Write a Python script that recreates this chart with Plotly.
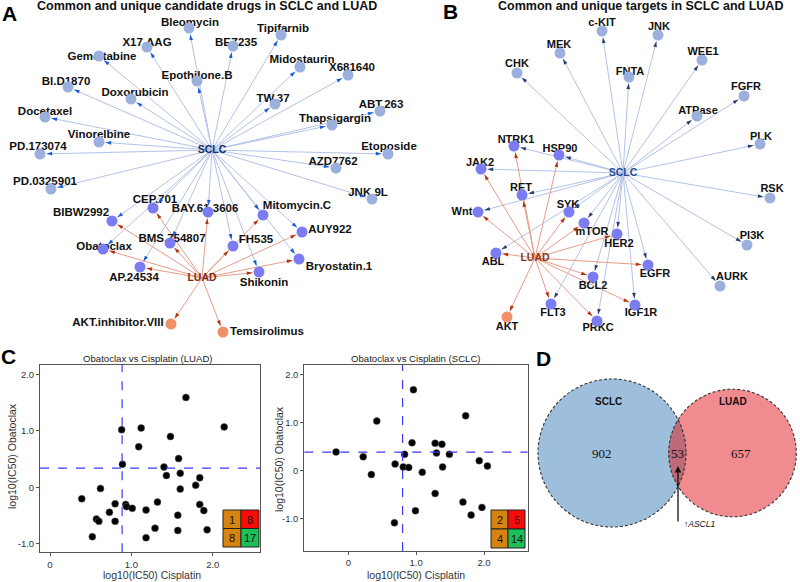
import math
import numpy as np
import plotly.graph_objects as go

W, H = 800, 582
SANS = "Liberation Sans, Arial, Helvetica, sans-serif"
SERIF = "Liberation Serif, Times New Roman, serif"

# ================= DATA =================
# ---- Panel A: candidate drugs (network) ----
drugs_A = ["Bleomycin", "Tipifarnib", "X17.AAG", "BEZ235", "Gemcitabine", "Midostaurin",
           "X681640", "Epothilone.B", "BI.D1870", "Doxorubicin", "TW.37", "ABT.263",
           "Docetaxel", "Thapsigargin", "Vinorelbine", "PD.173074", "Etoposide", "AZD7762",
           "PD.0325901", "JNK.9L",
           "CEP.701", "BAY.61.3606", "Mitomycin.C", "BIBW2992", "AUY922", "BMS.754807",
           "FH535", "Obatoclax", "Bryostatin.1", "AP.24534", "Shikonin",
           "AKT.inhibitor.VIII", "Temsirolimus"]
drug_group_A = ["SCLC", "SCLC", "SCLC", "SCLC", "SCLC", "SCLC", "SCLC", "SCLC", "SCLC", "SCLC",
                "SCLC", "SCLC", "SCLC", "SCLC", "SCLC", "SCLC", "SCLC", "SCLC", "SCLC", "SCLC",
                "both", "both", "both", "both", "both", "both", "both", "both", "both", "both",
                "both", "LUAD", "LUAD"]

# ---- Panel B: targets (network) ----
targets_B = ["c-KIT", "JNK", "MEK", "WEE1", "CHK", "FNTA", "FGFR", "ATPase", "PLK", "RSK",
             "PI3K", "AURK",
             "NTRK1", "HSP90", "JAK2", "RET", "Wnt", "SYK", "mTOR", "HER2", "ABL", "EGFR",
             "BCL2", "FLT3", "IGF1R", "PRKC", "AKT"]
target_group_B = ["SCLC", "SCLC", "SCLC", "SCLC", "SCLC", "SCLC", "SCLC", "SCLC", "SCLC", "SCLC",
                  "SCLC", "SCLC",
                  "both", "both", "both", "both", "both", "both", "both", "both", "both", "both",
                  "both", "both", "both", "both", "LUAD"]

# ---- Panel C: log10(IC50) scatter ----
luad_cisplatin = [0.39, 0.62, 0.57, 0.60, 0.52, 0.73, 0.80, 0.80, 0.88, 0.89, 0.93, 0.94, 1.01,
                  1.12, 1.09, 1.18, 1.18, 1.32, 1.29, 1.40, 1.43, 1.48, 1.58, 1.60, 1.60, 1.57,
                  1.57, 1.67, 1.79, 1.84, 1.84, 1.89, 1.93, 2.14]
luad_obatoclax = [-0.20, -0.02, -0.56, -0.60, -0.87, -0.44, -0.29, -0.60, 1.02, 0.41, -0.30,
                  -0.34, -0.37, 1.05, 0.72, -0.40, -0.89, -0.26, -0.72, 0.36, 0.21, 0.90, 0.51,
                  0.25, -0.03, -0.49, -0.76, 1.59, 0.04, 0.17, -0.30, -0.41, -0.75, 1.07]
luad_threshold = [0.886, 0.34]          # cisplatin, obatoclax
luad_quadrants = [1, 8, 8, 17]          # TL, TR, BL, BR

sclc_cisplatin = [-0.18, 0.22, 0.34, 0.42, 0.69, 0.68, 0.81, 0.83, 0.89, 0.94, 0.96, 0.99, 1.09,
                  1.28, 1.30, 1.28, 1.38, 1.39, 1.49, 1.69, 1.73, 1.81, 1.93, 1.97, 2.05]
sclc_obatoclax = [0.39, 0.29, -0.08, 1.03, 0.14, -1.08, 0.08, 0.34, 0.07, 0.58, 1.68, -0.83,
                  -0.03, 0.57, 0.37, -0.47, 0.55, 0.08, 0.34, -0.65, 1.14, -0.92, 0.21, -0.76,
                  0.10]
sclc_threshold = [0.80, 0.386]
sclc_quadrants = [2, 5, 4, 14]

x_tickvals = [0, 1, 2]
x_ticktext = ["0", "1.0", "2.0"]
y_tickvals = [-1, 0, 1, 2]
y_ticktext = ["-1.0", "0", "1.0", "2.0"]

# ---- Panel D: Venn ----
venn_sets = ["SCLC", "LUAD"]
venn_counts = [902, 53, 657]            # SCLC only, shared, LUAD only
venn_gene = "ASCL1"

# ================= LAYOUT (pixel positions on the canvas) =================
node_x_A = [189, 281, 147, 233, 99, 300, 348, 197, 68, 131, 275, 380, 45, 332, 99, 40, 388, 336,
            51, 372, 153, 208, 263, 112, 302, 170, 233, 103, 299, 140, 259, 171, 223]
node_y_A = [28, 35, 47, 46, 56, 67, 75, 81, 87, 99, 104, 111, 117, 125, 142, 154, 154, 168,
            189, 199, 208, 212, 215, 221, 232, 243, 246, 249, 259, 267, 272, 324, 332]
label_x_A = [190, 283, 147, 236, 102, 302, 352, 197, 66, 135, 273, 381, 45, 335, 99, 38, 389,
             333, 45, 368, 155, 205, 297, 81, 330, 172, 256, 104, 339, 134, 264, 118, 267]
label_y_A = [23, 29, 43, 43, 57, 60, 68, 76, 82, 93, 99, 105, 112, 119, 135, 147, 147, 162,
             182, 193, 200, 209, 206, 213, 230, 239, 240, 247, 267, 278, 283, 323, 332]
hubs_A = {"SCLC": (212, 150), "LUAD": (202, 278)}

node_x_B = [602, 658, 560, 702, 517, 629, 744, 697, 760, 770, 747, 720, 514, 559, 481, 522,
            478, 569, 584, 617, 496, 648, 593, 551, 635, 597, 507]
node_y_B = [31, 35, 53, 60, 73, 77, 96, 116, 144, 198, 245, 286, 146, 155, 169, 195, 212, 212,
            223, 234, 253, 265, 277, 304, 305, 321, 317]
label_x_B = [602, 659, 559, 703, 517, 630, 746, 698, 761, 772, 752, 732, 516, 560, 480, 521,
             462, 568, 592, 619, 493, 655, 593, 553, 641, 598, 507]
label_y_B = [23, 27, 45, 52, 64, 72, 87, 111, 137, 189, 236, 277, 140, 149, 163, 188, 212, 205,
             232, 244, 262, 274, 286, 313, 313, 328, 327]
hubs_B = {"SCLC": (623, 173), "LUAD": (535, 258)}

fig = go.Figure()

NODE_COLORS = {"SCLC": "#9cb0de", "both": "#7c7cf2", "LUAD": "#ef9068"}
EDGE_COLORS = {"SCLC": "#b3c2e8", "LUAD": "#e89c88"}


def add_network(names, groups, nx, ny, lx, ly, hubs, hub_colors, sclc_arrow, label_size):
    R = 6.5
    arrow_colors = {"SCLC": sclc_arrow, "LUAD": "#b3330e"}
    arrow_traces = []
    for hub in ["SCLC", "LUAD"]:
        hx, hy = hubs[hub]
        ex, ey, axs, ays, angs = [], [], [], [], []
        for g, x, y in zip(groups, nx, ny):
            if g not in (hub, "both"):
                continue
            dx, dy = x - hx, y - hy
            L = math.hypot(dx, dy)
            ux, uy = dx / L, dy / L
            tx, ty = x - ux * R, y - uy * R
            ex += [hx, tx, None]
            ey += [hy, ty, None]
            axs.append(tx)
            ays.append(ty)
            angs.append(math.degrees(math.atan2(ux, -uy)))
        fig.add_trace(go.Scatter(x=ex, y=ey, mode="lines",
                                 line=dict(color=EDGE_COLORS[hub], width=1),
                                 hoverinfo="skip", showlegend=False))
        arrow_traces.append(go.Scatter(x=axs, y=ays, mode="markers",
                                       marker=dict(symbol="arrow", size=6, angle=angs,
                                                   color=arrow_colors[hub]),
                                       hoverinfo="skip", showlegend=False))
    hub_names = list(hubs.keys())
    fig.add_trace(go.Scatter(x=[hubs[h][0] for h in hub_names], y=[hubs[h][1] for h in hub_names],
                             text=hub_names, mode="text",
                             textfont=dict(family=SANS, size=10.5, weight="bold",
                                           color=[hub_colors[h] for h in hub_names]),
                             hoverinfo="skip", showlegend=False))
    fig.add_trace(go.Scatter(x=lx, y=ly, text=names, mode="text",
                             textfont=dict(family=SANS, size=label_size, weight="bold",
                                           color="#111111"),
                             hoverinfo="skip", showlegend=False))
    fig.add_trace(go.Scatter(x=nx, y=ny, mode="markers",
                             marker=dict(size=11, color=[NODE_COLORS[g] for g in groups]),
                             hoverinfo="skip", showlegend=False))
    for t in arrow_traces:
        fig.add_trace(t)


add_network(drugs_A, drug_group_A, node_x_A, node_y_A, label_x_A, label_y_A, hubs_A,
            {"SCLC": "#162f70", "LUAD": "#7a2d10"}, "#1a5bd6", 11.5)
add_network(targets_B, target_group_B, node_x_B, node_y_B, label_x_B, label_y_B, hubs_B,
            {"SCLC": "#1f4f96", "LUAD": "#8a3818"}, "#283f6e", 11)

# ---- Panel C scatters ----
for xa, ya, cis, oba in [("x2", "y2", luad_cisplatin, luad_obatoclax),
                         ("x3", "y3", sclc_cisplatin, sclc_obatoclax)]:
    fig.add_trace(go.Scatter(x=cis, y=oba, xaxis=xa, yaxis=ya, mode="markers",
                             marker=dict(color="black", size=7,
                                         line=dict(color="#666666", width=0.5)),
                             hoverinfo="skip", showlegend=False))

ax_common = dict(showline=True, mirror=True, linecolor="#555555", linewidth=1,
                 ticks="outside", ticklen=3, tickcolor="#555555", showgrid=False,
                 zeroline=False, tickfont=dict(family=SANS, size=9.5, color="#333333"),
                 fixedrange=True)

fig.update_layout(
    width=W, height=H, autosize=False,
    margin=dict(l=0, r=0, t=0, b=0),
    paper_bgcolor="white", plot_bgcolor="rgba(0,0,0,0)",
    showlegend=False, hovermode=False,
    xaxis=dict(domain=[0, 1], range=[0, W], visible=False, fixedrange=True),
    yaxis=dict(domain=[0, 1], range=[H, 0], visible=False, fixedrange=True),
    xaxis2=dict(domain=[40 / W, 260 / W], range=[-0.123, 2.58], anchor="y2",
                tickvals=x_tickvals, ticktext=x_ticktext, **ax_common),
    yaxis2=dict(domain=[1 - 552.3 / H, 1 - 365 / H], range=[-1.147, 2.164], anchor="x2",
                tickvals=y_tickvals, ticktext=y_ticktext, **ax_common),
    xaxis3=dict(domain=[304.3 / W, 527.7 / W], range=[-0.648, 2.644], anchor="y3",
                tickvals=x_tickvals, ticktext=x_ticktext, **ax_common),
    yaxis3=dict(domain=[1 - 551 / H, 1 - 365 / H], range=[-1.664, 2.193], anchor="x3",
                tickvals=y_tickvals, ticktext=y_ticktext, **ax_common),
)

shapes = []
annotations = []

# threshold lines
for xa, ya, thr in [("x2", "y2", luad_threshold), ("x3", "y3", sclc_threshold)]:
    ln = dict(color="#3a3aff", width=1.2, dash="dash")
    shapes.append(dict(type="line", xref=xa, yref=ya + " domain", x0=thr[0], x1=thr[0],
                       y0=0, y1=1, line=ln))
    shapes.append(dict(type="line", xref=xa + " domain", yref=ya, x0=0, x1=1,
                       y0=thr[1], y1=thr[1], line=ln))

# quadrant count insets
QCOL = ["#d6840f", "#fb0a0a", "#d6840f", "#1dbf58"]
for (bx0, by0, bx1, by1), counts in [((223, 510, 259, 547), luad_quadrants),
                                     ((491, 510, 525, 548), sclc_quadrants)]:
    mx, my = (bx0 + bx1) / 2, (by0 + by1) / 2
    cells = [(bx0, by0, mx, my), (mx, by0, bx1, my), (bx0, my, mx, by1), (mx, my, bx1, by1)]
    for (cx0, cy0, cx1, cy1), col, n in zip(cells, QCOL, counts):
        shapes.append(dict(type="rect", xref="x", yref="y", x0=cx0, y0=cy0, x1=cx1, y1=cy1,
                           fillcolor=col, line=dict(color="#222222", width=1), layer="above"))
        annotations.append(dict(x=(cx0 + cx1) / 2, y=(cy0 + cy1) / 2 + 0.5, xref="x", yref="y",
                                text=str(n), showarrow=False,
                                font=dict(family=SANS, size=11, color="#111111")))

# subplot titles / axis titles
for cx, title in [(148, "Obatoclax vs Cisplatin (LUAD)"), (416, "Obatoclax vs Cisplatin (SCLC)")]:
    annotations.append(dict(x=cx, y=358, xref="x", yref="y", text=title, showarrow=False,
                            font=dict(family=SANS, size=9.6, color="#222222")))
for cx in [152, 416]:
    annotations.append(dict(x=cx, y=575, xref="x", yref="y", text="log10(IC50) Cisplatin",
                            showarrow=False, font=dict(family=SANS, size=10.5, color="#333333")))
for cx, cy in [(12, 456), (279, 459)]:
    annotations.append(dict(x=cx, y=cy, xref="x", yref="y", text="log10(IC50) Obatoclax",
                            textangle=-90, showarrow=False,
                            font=dict(family=SANS, size=10.5, color="#333333")))

# ---- Panel D Venn ----
tot_s = venn_counts[0] + venn_counts[1]
tot_l = venn_counts[2] + venn_counts[1]
k = 74 / math.sqrt(tot_s)
r1, r2 = k * math.sqrt(tot_s), k * math.sqrt(tot_l)
c1 = (612, 453)
c2 = (732.5, 453)
d = c2[0] - c1[0]
a = (d ** 2 + r1 ** 2 - r2 ** 2) / (2 * d)
h = math.sqrt(r1 ** 2 - a ** 2)
t1 = math.atan2(h, a)
t2 = math.atan2(h, d - a)
arc1 = np.linspace(-t1, t1, 40)
arc2 = np.linspace(math.pi - t2, math.pi + t2, 40)
pts = [(c1[0] + r1 * math.cos(t), c1[1] + r1 * math.sin(t)) for t in arc1] + \
      [(c2[0] + r2 * math.cos(t), c2[1] + r2 * math.sin(t)) for t in arc2]
lens = "M " + " L ".join(f"{x:.2f},{y:.2f}" for x, y in pts) + " Z"

shapes.append(dict(type="circle", xref="x", yref="y", x0=c1[0] - r1, x1=c1[0] + r1,
                   y0=c1[1] - r1, y1=c1[1] + r1, fillcolor="#9ebfdc", line=dict(width=0)))
shapes.append(dict(type="circle", xref="x", yref="y", x0=c2[0] - r2, x1=c2[0] + r2,
                   y0=c2[1] - r2, y1=c2[1] + r2, fillcolor="#f08b8f", line=dict(width=0)))
shapes.append(dict(type="path", xref="x", yref="y", path=lens, fillcolor="#bf6a79",
                   line=dict(width=0)))
for (cx, cy), r in [(c1, r1), (c2, r2)]:
    shapes.append(dict(type="circle", xref="x", yref="y", x0=cx - r, x1=cx + r,
                       y0=cy - r, y1=cy + r, fillcolor="rgba(0,0,0,0)",
                       line=dict(color="#333333", width=1.1, dash="3px,2px")))

annotations.append(dict(x=608, y=401, xref="x", yref="y", text="<b>" + venn_sets[0] + "</b>",
                        showarrow=False, font=dict(family=SANS, size=10, color="#111111")))
annotations.append(dict(x=733, y=401, xref="x", yref="y", text="<b>" + venn_sets[1] + "</b>",
                        showarrow=False, font=dict(family=SANS, size=10, color="#111111")))
for x, n in zip([602, 677, 741], venn_counts):
    annotations.append(dict(x=x, y=453, xref="x", yref="y", text=str(n), showarrow=False,
                            font=dict(family=SERIF, size=13, color="#111111")))
annotations.append(dict(x=678, y=466, ax=678, ay=523, xref="x", yref="y", axref="x", ayref="y",
                        text="", showarrow=True, arrowhead=2, arrowsize=1, arrowwidth=1.3,
                        arrowcolor="#111111"))
annotations.append(dict(x=682, y=524, xref="x", yref="y", xanchor="left",
                        text="↑<i>" + venn_gene + "</i>", showarrow=False,
                        font=dict(family=SANS, size=8.5, color="#111111")))

# titles & panel letters
annotations.append(dict(x=207, y=6, xref="x", yref="y", showarrow=False,
                        text="<b>Common and unique candidate drugs in SCLC and LUAD</b>",
                        font=dict(family=SANS, size=12.5, color="#111111")))
annotations.append(dict(x=640, y=6, xref="x", yref="y", showarrow=False,
                        text="<b>Common and unique targets in SCLC and LUAD</b>",
                        font=dict(family=SANS, size=12.5, color="#111111")))
for letter, x, y in [("A", 9, 13), ("B", 450, 11), ("C", 8, 356), ("D", 543, 358)]:
    annotations.append(dict(x=x, y=y, xref="x", yref="y", showarrow=False,
                            text="<b>" + letter + "</b>",
                            font=dict(family=SANS, size=21, color="#000000")))

fig.update_layout(shapes=shapes, annotations=annotations)
fig.write_html("out.html",
               config={"displayModeBar": False, "staticPlot": True},
               post_script="document.body.style.margin='0px';"
                           "document.body.style.overflow='hidden';")
